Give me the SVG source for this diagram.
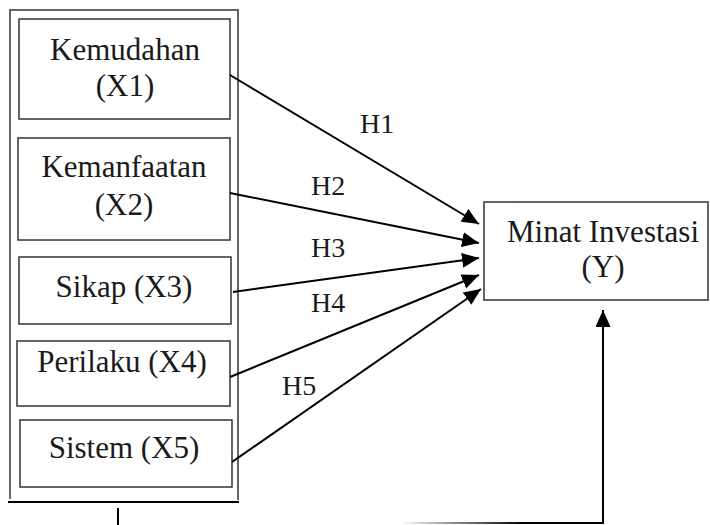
<svg xmlns="http://www.w3.org/2000/svg" width="710" height="525" viewBox="0 0 710 525">
<style>
.box{fill:#fff;stroke:#333;stroke-width:1.5}
.t{font-family:"Liberation Serif","Times New Roman",serif;font-size:31px;fill:#1a1a1a;text-anchor:middle}
.h{font-family:"Liberation Serif","Times New Roman",serif;font-size:28px;fill:#1a1a1a}
.c{stroke:#000;stroke-width:2;fill:none}
</style>
<defs>
<marker id="ah" markerUnits="userSpaceOnUse" markerWidth="18" markerHeight="16" refX="17" refY="7.5" orient="auto">
<path d="M0,0 L17,7.5 L0,15 z" fill="#000"/>
</marker>
<linearGradient id="fade" x1="400" y1="0" x2="603" y2="0" gradientUnits="userSpaceOnUse">
<stop offset="0" stop-color="#000" stop-opacity="0"/>
<stop offset="0.6" stop-color="#000" stop-opacity="1"/>
</linearGradient>
</defs>
<rect width="710" height="525" fill="#fff"/>
<g id="container">
<path d="M10,499 L10,10 L238,10 L238,500" fill="none" stroke="#333" stroke-width="1.5"/>
<line x1="8" y1="502" x2="239" y2="502" stroke="#000" stroke-width="2"/>
<line x1="118" y1="508" x2="118" y2="525" stroke="#000" stroke-width="2"/>
</g>
<g id="x1"><rect class="box" x="19" y="19" width="211" height="100"/><text class="t" x="125" y="60">Kemudahan</text><text class="t" x="125" y="96">(X1)</text></g>
<g id="x2"><rect class="box" x="18" y="138" width="212" height="102"/><text class="t" x="124" y="177">Kemanfaatan</text><text class="t" x="124" y="215">(X2)</text></g>
<g id="x3"><rect class="box" x="19" y="257" width="212" height="67"/><text class="t" x="124" y="297">Sikap (X3)</text></g>
<g id="x4"><rect class="box" x="17" y="341" width="213" height="65"/><text class="t" x="122" y="372">Perilaku (X4)</text></g>
<g id="x5"><rect class="box" x="20" y="420" width="212" height="67"/><text class="t" x="124" y="458">Sistem (X5)</text></g>
<g id="y"><rect class="box" x="484" y="202" width="224" height="98"/><text class="t" x="603" y="242">Minat Investasi</text><text class="t" x="603" y="277">(Y)</text></g>
<g id="connectors">
<line class="c" x1="230" y1="75" x2="479" y2="224" marker-end="url(#ah)"/>
<line class="c" x1="230" y1="193" x2="479" y2="243" marker-end="url(#ah)"/>
<line class="c" x1="233" y1="292" x2="479" y2="258" marker-end="url(#ah)"/>
<line class="c" x1="230" y1="377" x2="479" y2="275" marker-end="url(#ah)"/>
<line class="c" x1="232" y1="462" x2="481" y2="289" marker-end="url(#ah)"/>
<line class="c" x1="603" y1="524" x2="603" y2="310" marker-end="url(#ah)"/>
<line x1="400" y1="523" x2="604" y2="523" stroke="url(#fade)" stroke-width="2"/>
</g>
<g id="labels">
<text class="h" x="360" y="133">H1</text>
<text class="h" x="311" y="195">H2</text>
<text class="h" x="311" y="257">H3</text>
<text class="h" x="311" y="312">H4</text>
<text class="h" x="282" y="395">H5</text>
</g>
</svg>
